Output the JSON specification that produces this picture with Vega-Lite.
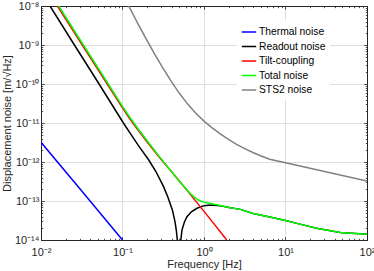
{
  "$schema": "https://vega.github.io/schema/vega-lite/v6.json",
  "width": 326,
  "height": 234,
  "autosize": {"type": "none"},
  "padding": {"left": 41, "top": 6, "right": 7, "bottom": 31},
  "background": "white",
  "config": {
    "font": "Liberation Sans",
    "view": {"stroke": null},
    "axis": {
      "domainColor": "#262626",
      "domainWidth": 1,
      "tickColor": "#262626",
      "tickWidth": 0.8,
      "labelColor": "#262626",
      "titleColor": "#262626",
      "labelFontSize": 11,
      "titleFontSize": 11,
      "titleFontWeight": "normal",
      "gridColor": "#dedede",
      "gridWidth": 1,
      "labelOverlap": false,
      "labelFlush": false,
      "labelBound": false
    }
  },
  "data": {
    "values": [
      {"series": "Thermal noise", "f": 0.01, "v": 3.2e-12},
      {"series": "Thermal noise", "f": 0.03, "v": 2.05e-13},
      {"series": "Thermal noise", "f": 0.1, "v": 1.0e-14},

      {"series": "Readout noise", "f": 0.0129, "v": 1e-8},
      {"series": "Readout noise", "f": 0.0257, "v": 1e-9},
      {"series": "Readout noise", "f": 0.0516, "v": 1e-10},
      {"series": "Readout noise", "f": 0.1026, "v": 1e-11},
      {"series": "Readout noise", "f": 0.124, "v": 5.5e-12},
      {"series": "Readout noise", "f": 0.1585, "v": 2.56e-12},
      {"series": "Readout noise", "f": 0.209, "v": 1.14e-12},
      {"series": "Readout noise", "f": 0.257, "v": 5.7e-13},
      {"series": "Readout noise", "f": 0.319, "v": 2.34e-13},
      {"series": "Readout noise", "f": 0.36, "v": 1.26e-13},
      {"series": "Readout noise", "f": 0.409, "v": 5.9e-14},
      {"series": "Readout noise", "f": 0.44, "v": 3.0e-14},
      {"series": "Readout noise", "f": 0.457, "v": 1.8e-14},
      {"series": "Readout noise", "f": 0.475, "v": 8.4e-15},
      {"series": "Readout noise", "f": 0.493, "v": 1e-15},
      {"series": "Readout noise", "f": 0.51, "v": 7.3e-15},
      {"series": "Readout noise", "f": 0.537, "v": 1.8e-14},
      {"series": "Readout noise", "f": 0.575, "v": 2.9e-14},
      {"series": "Readout noise", "f": 0.618, "v": 3.97e-14},
      {"series": "Readout noise", "f": 0.7, "v": 5.3e-14},
      {"series": "Readout noise", "f": 0.82, "v": 6.5e-14},
      {"series": "Readout noise", "f": 1.0, "v": 7.6e-14},
      {"series": "Readout noise", "f": 1.2, "v": 7.9e-14},
      {"series": "Readout noise", "f": 1.6, "v": 7.5e-14},
      {"series": "Readout noise", "f": 2.1, "v": 6.7e-14},
      {"series": "Readout noise", "f": 2.8, "v": 6.1e-14},
      {"series": "Readout noise", "f": 4, "v": 4.8e-14},
      {"series": "Readout noise", "f": 6, "v": 4.0e-14},
      {"series": "Readout noise", "f": 10, "v": 3.15e-14},
      {"series": "Readout noise", "f": 15, "v": 2.55e-14},
      {"series": "Readout noise", "f": 24, "v": 2.0e-14},
      {"series": "Readout noise", "f": 47, "v": 1.55e-14},
      {"series": "Readout noise", "f": 100, "v": 1.4e-14},

      {"series": "Tilt-coupling", "f": 0.0159, "v": 1e-8},
      {"series": "Tilt-coupling", "f": 0.0321, "v": 1e-9},
      {"series": "Tilt-coupling", "f": 0.065, "v": 1e-10},
      {"series": "Tilt-coupling", "f": 0.1, "v": 2.43e-11},
      {"series": "Tilt-coupling", "f": 0.1259, "v": 1.19e-11},
      {"series": "Tilt-coupling", "f": 0.1585, "v": 6.18e-12},
      {"series": "Tilt-coupling", "f": 0.1995, "v": 3.32e-12},
      {"series": "Tilt-coupling", "f": 0.29, "v": 1.25e-12},
      {"series": "Tilt-coupling", "f": 0.45, "v": 4.16e-13},
      {"series": "Tilt-coupling", "f": 0.679, "v": 1.48e-13},
      {"series": "Tilt-coupling", "f": 1.2, "v": 3.38e-14},
      {"series": "Tilt-coupling", "f": 1.9, "v": 1e-14},

      {"series": "Total noise", "f": 0.0165, "v": 1e-8},
      {"series": "Total noise", "f": 0.0321, "v": 1.108e-9},
      {"series": "Total noise", "f": 0.065, "v": 1.10e-10},
      {"series": "Total noise", "f": 0.1, "v": 2.663e-11},
      {"series": "Total noise", "f": 0.1259, "v": 1.303e-11},
      {"series": "Total noise", "f": 0.1585, "v": 6.69e-12},
      {"series": "Total noise", "f": 0.1995, "v": 3.565e-12},
      {"series": "Total noise", "f": 0.29, "v": 1.293e-12},
      {"series": "Total noise", "f": 0.4, "v": 5.62e-13},
      {"series": "Total noise", "f": 0.5, "v": 3.19e-13},
      {"series": "Total noise", "f": 0.6, "v": 2.05e-13},
      {"series": "Total noise", "f": 0.679, "v": 1.56e-13},
      {"series": "Total noise", "f": 0.75, "v": 1.29e-13},
      {"series": "Total noise", "f": 0.82, "v": 1.12e-13},
      {"series": "Total noise", "f": 0.9, "v": 1.0e-13},
      {"series": "Total noise", "f": 1.0, "v": 9.35e-14},
      {"series": "Total noise", "f": 1.2, "v": 8.6e-14},
      {"series": "Total noise", "f": 1.6, "v": 7.66e-14},
      {"series": "Total noise", "f": 2.1, "v": 6.74e-14},
      {"series": "Total noise", "f": 2.8, "v": 6.1e-14},
      {"series": "Total noise", "f": 4, "v": 4.8e-14},
      {"series": "Total noise", "f": 6, "v": 4.0e-14},
      {"series": "Total noise", "f": 10, "v": 3.15e-14},
      {"series": "Total noise", "f": 15, "v": 2.55e-14},
      {"series": "Total noise", "f": 24, "v": 2.0e-14},
      {"series": "Total noise", "f": 47, "v": 1.55e-14},
      {"series": "Total noise", "f": 100, "v": 1.4e-14},

      {"series": "STS2 noise", "f": 0.119, "v": 1e-8},
      {"series": "STS2 noise", "f": 0.1585, "v": 3.19e-9},
      {"series": "STS2 noise", "f": 0.1995, "v": 1.315e-9},
      {"series": "STS2 noise", "f": 0.2512, "v": 5.61e-10},
      {"series": "STS2 noise", "f": 0.3162, "v": 2.48e-10},
      {"series": "STS2 noise", "f": 0.3981, "v": 1.146e-10},
      {"series": "STS2 noise", "f": 0.5012, "v": 5.68e-11},
      {"series": "STS2 noise", "f": 0.631, "v": 3.05e-11},
      {"series": "STS2 noise", "f": 0.7943, "v": 1.774e-11},
      {"series": "STS2 noise", "f": 1.0, "v": 1.119e-11},
      {"series": "STS2 noise", "f": 1.259, "v": 7.48e-12},
      {"series": "STS2 noise", "f": 1.585, "v": 5.24e-12},
      {"series": "STS2 noise", "f": 1.995, "v": 3.79e-12},
      {"series": "STS2 noise", "f": 2.512, "v": 2.84e-12},
      {"series": "STS2 noise", "f": 3.162, "v": 2.21e-12},
      {"series": "STS2 noise", "f": 3.981, "v": 1.754e-12},
      {"series": "STS2 noise", "f": 5.012, "v": 1.426e-12},
      {"series": "STS2 noise", "f": 6.4, "v": 1.172e-12},
      {"series": "STS2 noise", "f": 10, "v": 9.6e-13},
      {"series": "STS2 noise", "f": 100, "v": 3.25e-13}
    ]
  },
  "layer": [
    {
      "mark": {"type": "line", "strokeWidth": 1.5, "clip": true},
      "encoding": {
        "x": {
          "field": "f", "type": "quantitative",
          "scale": {"type": "log", "domain": [0.01, 100]},
          "axis": {
            "orient": "bottom",
            "title": "Frequency [Hz]",
            "titleY": 27.5,
            "titleBaseline": "alphabetic",
            "values": [0.01,0.02,0.03,0.04,0.05,0.06,0.07,0.08,0.09,0.1,0.2,0.3,0.4,0.5,0.6,0.7,0.8,0.9,1,2,3,4,5,6,7,8,9,10,20,30,40,50,60,70,80,90,100],
            "tickSize": {"condition": {"test": "abs(log(datum.value)/LN10 - round(log(datum.value)/LN10)) < 0.01", "value": -3.3}, "value": -1.7},
            "gridOpacity": {"condition": {"test": "abs(log(datum.value)/LN10 - round(log(datum.value)/LN10)) < 0.01", "value": 1}, "value": 0},
            "labelBaseline": "alphabetic",
            "labelPadding": 19,
            "labelExpr": "abs(log(datum.value)/LN10 - round(log(datum.value)/LN10)) < 0.01 ? '10' + replace(replace(replace(replace(replace(replace(replace(replace(replace(replace(replace(toString(round(log(datum.value)/LN10)), '-', '⁻'), regexp('0','g'), '⁰'), regexp('1','g'), '¹'), regexp('2','g'), '²'), regexp('3','g'), '³'), regexp('4','g'), '⁴'), regexp('5','g'), '⁵'), regexp('6','g'), '⁶'), regexp('7','g'), '⁷'), regexp('8','g'), '⁸'), regexp('9','g'), '⁹') : ''"
          }
        },
        "y": {
          "field": "v", "type": "quantitative",
          "scale": {"type": "log", "domain": [1e-14, 1e-8]},
          "axis": {
            "orient": "left",
            "title": "Displacement noise [m/√Hz]",
            "titleX": -31,
            "titleBaseline": "alphabetic",
            "values": [1e-14,2e-14,3e-14,4e-14,5e-14,6e-14,7e-14,8e-14,9e-14,1e-13,2e-13,3e-13,4e-13,5e-13,6e-13,7e-13,8e-13,9e-13,1e-12,2e-12,3e-12,4e-12,5e-12,6e-12,7e-12,8e-12,9e-12,1e-11,2e-11,3e-11,4e-11,5e-11,6e-11,7e-11,8e-11,9e-11,1e-10,2e-10,3e-10,4e-10,5e-10,6e-10,7e-10,8e-10,9e-10,1e-9,2e-9,3e-9,4e-9,5e-9,6e-9,7e-9,8e-9,9e-9,1e-8],
            "tickSize": {"condition": {"test": "abs(log(datum.value)/LN10 - round(log(datum.value)/LN10)) < 0.01", "value": -3.3}, "value": -1.7},
            "gridOpacity": {"condition": {"test": "abs(log(datum.value)/LN10 - round(log(datum.value)/LN10)) < 0.01", "value": 1}, "value": 0},
            "labelPadding": 5.3,
            "labelExpr": "abs(log(datum.value)/LN10 - round(log(datum.value)/LN10)) < 0.01 ? '10' + replace(replace(replace(replace(replace(replace(replace(replace(replace(replace(replace(toString(round(log(datum.value)/LN10)), '-', '⁻'), regexp('0','g'), '⁰'), regexp('1','g'), '¹'), regexp('2','g'), '²'), regexp('3','g'), '³'), regexp('4','g'), '⁴'), regexp('5','g'), '⁵'), regexp('6','g'), '⁶'), regexp('7','g'), '⁷'), regexp('8','g'), '⁸'), regexp('9','g'), '⁹') : ''"
          }
        },
        "color": {
          "field": "series", "type": "nominal",
          "scale": {
            "domain": ["Thermal noise", "Readout noise", "Tilt-coupling", "Total noise", "STS2 noise"],
            "range": ["#0000ff", "#000000", "#ff0000", "#00ff00", "#808080"]
          },
          "legend": {
            "orient": "none",
            "legendX": 196,
            "legendY": 14,
            "title": null,
            "symbolType": "stroke",
            "symbolSize": 207,
            "symbolStrokeWidth": 1.5,
            "labelFontSize": 10.3,
            "labelColor": "#000000",
            "labelOffset": 2,
            "rowPadding": 0.5,
            "padding": 4,
            "fillColor": "white"
          }
        }
      }
    },
    {
      "mark": {"type": "line", "opacity": 0},
      "encoding": {
        "x": {
          "field": "f", "type": "quantitative",
          "axis": {
            "orient": "top",
            "title": null,
            "labels": false,
            "grid": false,
            "values": [0.01,0.02,0.03,0.04,0.05,0.06,0.07,0.08,0.09,0.1,0.2,0.3,0.4,0.5,0.6,0.7,0.8,0.9,1,2,3,4,5,6,7,8,9,10,20,30,40,50,60,70,80,90,100],
            "tickSize": {"condition": {"test": "abs(log(datum.value)/LN10 - round(log(datum.value)/LN10)) < 0.01", "value": -3.3}, "value": -1.7}
          }
        },
        "y": {
          "field": "v", "type": "quantitative",
          "axis": {
            "orient": "right",
            "title": null,
            "labels": false,
            "grid": false,
            "values": [1e-14,2e-14,3e-14,4e-14,5e-14,6e-14,7e-14,8e-14,9e-14,1e-13,2e-13,3e-13,4e-13,5e-13,6e-13,7e-13,8e-13,9e-13,1e-12,2e-12,3e-12,4e-12,5e-12,6e-12,7e-12,8e-12,9e-12,1e-11,2e-11,3e-11,4e-11,5e-11,6e-11,7e-11,8e-11,9e-11,1e-10,2e-10,3e-10,4e-10,5e-10,6e-10,7e-10,8e-10,9e-10,1e-9,2e-9,3e-9,4e-9,5e-9,6e-9,7e-9,8e-9,9e-9,1e-8],
            "tickSize": {"condition": {"test": "abs(log(datum.value)/LN10 - round(log(datum.value)/LN10)) < 0.01", "value": -3.3}, "value": -1.7}
          }
        },
        "detail": {"field": "series", "type": "nominal"}
      }
    }
  ],
  "resolve": {"axis": {"x": "independent", "y": "independent"}}
}
